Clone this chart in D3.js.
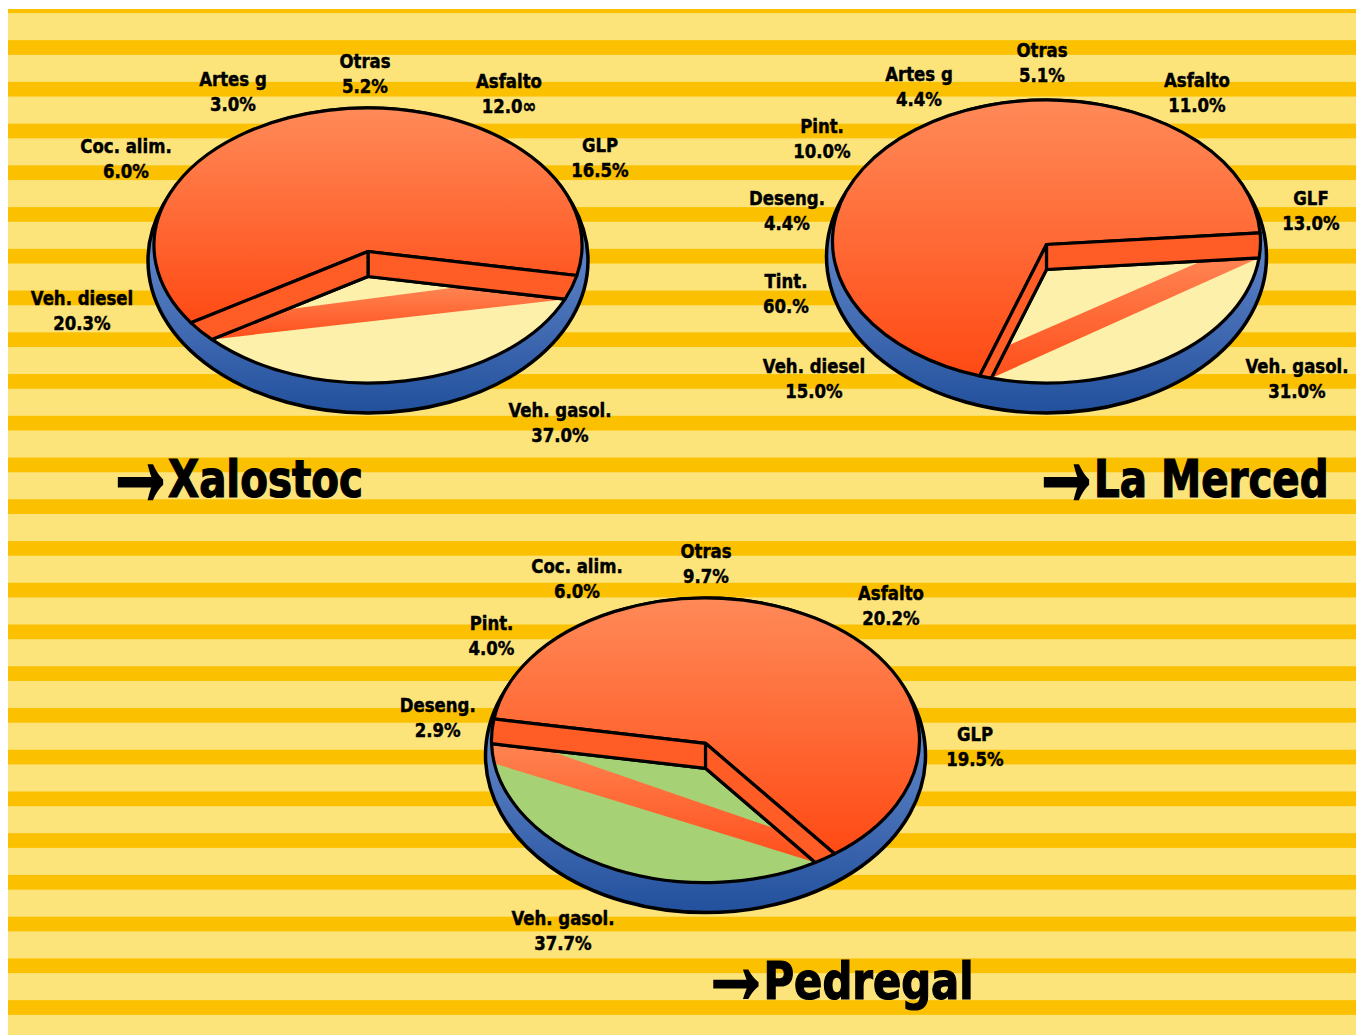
<!DOCTYPE html>
<html>
<head>
<meta charset="utf-8">
<script src="https://cdn.jsdelivr.net/npm/d3@7"></script>
<style>
  html, body { margin: 0; padding: 0; background: #ffffff; }
  svg { display: block; }
  .lbl { font-family: "DejaVu Sans Condensed", "DejaVu Sans", sans-serif; font-stretch: condensed; font-weight: bold; font-size: 20px; fill: #000; stroke: #000; stroke-width: 0.45px; }
  .ttl { font-family: "DejaVu Sans Condensed", "DejaVu Sans", sans-serif; font-stretch: condensed; font-weight: bold; font-size: 51px; fill: #000; stroke: #000; stroke-width: 1.2px; }
  .arw { font-family: "Noto Sans", sans-serif; font-weight: bold; font-size: 52px; fill: #000; stroke: #000; stroke-linejoin: miter; }
</style>
</head>
<body>
<script>
// ---- Data: share of emissions by source, per station (clockwise from 12 o'clock) ----
const xalostocCategories = ["Asfalto", "GLP", "Veh. gasol.", "Veh. diesel", "Coc. alim.", "Artes g", "Otras"];
const xalostocValues     = [12.0, 16.5, 37.0, 20.3, 6.0, 3.0, 5.2];
const xalostocLabels     = ["12.0∞", "16.5%", "37.0%", "20.3%", "6.0%", "3.0%", "5.2%"];

const mercedCategories = ["Asfalto", "GLF", "Veh. gasol.", "Veh. diesel", "Tint.", "Deseng.", "Pint.", "Artes g", "Otras"];
const mercedValues     = [11.0, 13.0, 31.0, 15.0, 6.0, 4.4, 10.0, 4.4, 5.1];
const mercedLabels     = ["11.0%", "13.0%", "31.0%", "15.0%", "60.%", "4.4%", "10.0%", "4.4%", "5.1%"];

const pedregalCategories = ["Asfalto", "GLP", "Veh. gasol.", "Deseng.", "Pint.", "Coc. alim.", "Otras"];
const pedregalValues     = [20.2, 19.5, 37.7, 2.9, 4.0, 6.0, 9.7];
const pedregalLabels     = ["20.2%", "19.5%", "37.7%", "2.9%", "4.0%", "6.0%", "9.7%"];

const stationNames = ["Xalostoc", "La Merced", "Pedregal"];
const cutCategory = "Veh. gasol.";   // the slice that is drawn sunk into the pie

const stations = [
  { name: stationNames[0], categories: xalostocCategories, values: xalostocValues, labels: xalostocLabels },
  { name: stationNames[1], categories: mercedCategories,   values: mercedValues,   labels: mercedLabels },
  { name: stationNames[2], categories: pedregalCategories, values: pedregalValues, labels: pedregalLabels }
];

// ---- Layout (geometry and styling of each pie) ----
const layout = {
  "Xalostoc": {
    cx: 368, cy: 245.5, rx: 214, ry: 137.5, side: 30, depth: 25, apexDy: 6,
    floor: "#fdf0aa", stripe: { f: 0.47, g: 0.54, arc: 0 },
    title: [117, 497], nameScale: 0.88,
    labelOffsets: {
      "Asfalto": [141, -157.5], "GLP": [232, -93.5], "Veh. gasol.": [192, 171.5],
      "Veh. diesel": [-286, 59.5], "Coc. alim.": [-242, -92.5], "Artes g": [-135, -159.5], "Otras": [-3, -177.5]
    }
  },
  "La Merced": {
    cx: 1046.5, cy: 241.5, rx: 214, ry: 141.5, side: 30, depth: 25, apexDy: 3,
    floor: "#fdf0aa", stripe: { f: 0.30, g: 0.27, arc: 0 },
    title: [1043, 497], nameScale: 0.88,
    labelOffsets: {
      "Asfalto": [150.5, -154.5], "GLF": [264.5, -36.5], "Veh. gasol.": [250.5, 131.5],
      "Veh. diesel": [-232.5, 131.5], "Tint.": [-260.5, 46.5], "Deseng.": [-259.5, -36.5],
      "Pint.": [-224.5, -108.5], "Artes g": [-127.5, -160.5], "Otras": [-4.5, -184.5]
    }
  },
  "Pedregal": {
    cx: 705.5, cy: 740.3, rx: 214, ry: 142.3, side: 30, depth: 25, apexDy: 3,
    floor: "#a6d275", stripe: { f: 0.26, g: 0.355, arc: 8 },
    title: [712.5, 999], nameScale: 0.91,
    labelOffsets: {
      "Asfalto": [185.5, -140.3], "GLP": [269.5, 0.4], "Veh. gasol.": [-142.5, 184.7],
      "Deseng.": [-267.8, -28.3], "Pint.": [-214, -110.3], "Coc. alim.": [-128.5, -167.3], "Otras": [0.5, -182.3]
    }
  }
};
const arrowBox = { width: 47, top: -34, bottom: 4, stroke: 2 };   // title arrow ink box, relative to the title baseline

const W = 1356, H = 1035;
const svg = d3.select("body").append("svg").attr("width", W).attr("height", H);
const defs = svg.append("defs");

// gradients
function linGrad(id, stops) {
  const g = defs.append("linearGradient").attr("id", id)
    .attr("x1", 0).attr("y1", 0).attr("x2", 0).attr("y2", 1);
  stops.forEach(([o, c]) => g.append("stop").attr("offset", o).attr("stop-color", c));
}
linGrad("topFace", [[0, "#ff8a58"], [1, "#ff4a14"]]);
linGrad("sideBlue", [[0, "#7b9ad6"], [0.5, "#5a80c4"], [1, "#22509c"]]);
linGrad("stripeFill", [[0, "#ff8452"], [1, "#ff4e1a"]]);

// ---- Background: white frame with horizontal yellow bands ----
svg.append("rect").attr("width", W).attr("height", H).attr("fill", "#ffffff");
const bg = svg.append("g");
const bgTop = 9, bgLeft = 8;
bg.append("rect").attr("x", bgLeft).attr("y", bgTop).attr("width", W - bgLeft).attr("height", H - bgTop).attr("fill", "#fce47b");
const bandPeriod = 41.74, bandH = 14.7, bandStart = -1.6;
d3.range(0, 26).forEach(k => {
  const y0 = bandStart + k * bandPeriod;
  const top = Math.max(y0, bgTop), bot = Math.min(y0 + bandH, H);
  if (bot > top) bg.append("rect").attr("x", bgLeft).attr("y", top).attr("width", W - bgLeft).attr("height", bot - top).attr("fill", "#fbc101");
});

// ink and font-box extent of the arrow glyph, measured once on a canvas with the same font
const arrowInk = (() => {
  const ctx = document.createElement("canvas").getContext("2d");
  ctx.font = "bold 52px 'Noto Sans'";
  const m = ctx.measureText("→");
  const h = arrowBox.stroke / 2;
  return {
    left: -m.actualBoundingBoxLeft - h, right: m.actualBoundingBoxRight + h,
    top: -m.actualBoundingBoxAscent - h, bottom: m.actualBoundingBoxDescent + h,
    boxDescent: m.fontBoundingBoxDescent || 52 * 0.3
  };
})();

// ---- Pies ----
const pie = d3.pie().sort(null).value(d => d.value).startAngle(0).endAngle(2 * Math.PI);

stations.forEach((st, si) => {
  const L = layout[st.name];
  const { cx, cy, rx, ry } = L;
  const rows = st.categories.map((c, i) => ({ category: c, value: st.values[i], label: st.labels[i] }));
  const arcs = pie(rows);
  const cut = arcs.find(a => a.data.category === cutCategory);

  const ell = a => [cx + rx * Math.sin(a), cy - ry * Math.cos(a)];
  const angOf = p => Math.atan2((p[0] - cx) / rx, -(p[1] - cy) / ry);
  const A = [cx, cy + L.apexDy];                 // apex on the top face
  const B = [cx, cy + L.apexDy + L.depth];       // apex on the sunk floor
  const E1 = ell(cut.startAngle), E2 = ell(cut.endAngle);

  // where the floor edge (wall bottom, parallel to the top edge) meets the rim
  function rimHit(E) {
    const du = (E[0] - A[0]) / rx, dv = (E[1] - A[1]) / ry;
    const u0 = (B[0] - cx) / rx, v0 = (B[1] - cy) / ry;
    const a = du * du + dv * dv, b = 2 * (u0 * du + v0 * dv), c = u0 * u0 + v0 * v0 - 1;
    const s = (-b + Math.sqrt(b * b - 4 * a * c)) / (2 * a);
    return [B[0] + s * (E[0] - A[0]), B[1] + s * (E[1] - A[1])];
  }
  const R = rimHit(E1), Lc = rimHit(E2);
  const norm = d => { while (d < 0) d += 2 * Math.PI; while (d >= 2 * Math.PI) d -= 2 * Math.PI; return d; };
  const P = p => p[0].toFixed(2) + "," + p[1].toFixed(2);

  const g = svg.append("g");

  // blue side (base)
  g.append("ellipse")
    .attr("cx", cx).attr("cy", cy + L.side / 2)
    .attr("rx", rx + 6).attr("ry", ry + L.side / 2)
    .attr("fill", "url(#sideBlue)").attr("stroke", "#000").attr("stroke-width", 3.5);

  // top face with the slice removed
  const span = cut.endAngle - cut.startAngle;
  const topPath = `M${P(A)}L${P(E1)}A${rx},${ry} 0 ${span < Math.PI ? 1 : 0} 0 ${P(E2)}Z`;
  g.append("path").attr("d", topPath).attr("fill", "url(#topFace)")
    .attr("stroke", "#000").attr("stroke-width", 3.2).attr("stroke-linejoin", "round");

  // sunk floor
  const dFloor = norm(angOf(Lc) - angOf(R));
  const floorPath = `M${P(B)}L${P(R)}A${rx},${ry} 0 ${dFloor > Math.PI ? 1 : 0} 1 ${P(Lc)}Z`;
  const clipId = "floorClip" + si;
  defs.append("clipPath").attr("id", clipId).append("path").attr("d", floorPath);
  g.append("path").attr("d", floorPath).attr("fill", L.floor);

  // highlight band across the floor
  const lerp = (p, q, t) => [p[0] + (q[0] - p[0]) * t, p[1] + (q[1] - p[1]) * t];
  const sp = lerp(Lc, B, L.stripe.f), sq = lerp(R, B, L.stripe.g);
  const lb = ell(angOf(Lc) - L.stripe.arc * Math.PI / 180);
  g.append("path")
    .attr("d", `M${P(Lc)}L${P(sp)}L${P(sq)}L${P(R)}L${P(lb)}Z`)
    .attr("clip-path", `url(#${clipId})`)
    .attr("fill", "url(#stripeFill)");

  g.append("path").attr("d", floorPath).attr("fill", "none")
    .attr("stroke", "#000").attr("stroke-width", 3.2).attr("stroke-linejoin", "round");

  // cut walls on both sides of the slice
  const dR = norm(angOf(R) - cut.startAngle);
  const wall1 = `M${P(A)}L${P(E1)}A${rx},${ry} 0 ${dR > Math.PI ? 1 : 0} 1 ${P(R)}L${P(B)}Z`;
  const dL = norm(cut.endAngle - angOf(Lc));
  const wall2 = `M${P(A)}L${P(E2)}A${rx},${ry} 0 ${dL > Math.PI ? 1 : 0} 0 ${P(Lc)}L${P(B)}Z`;
  [wall1, wall2].forEach(d => g.append("path").attr("d", d)
    .attr("fill", "#ff5c26").attr("stroke", "#000").attr("stroke-width", 3.2).attr("stroke-linejoin", "round"));

  // labels
  rows.forEach(r => {
    const off = L.labelOffsets[r.category];
    const t = g.append("g").attr("transform", `translate(${cx + off[0]},${cy + off[1]}) scale(0.92,1)`);
    t.append("text").attr("class", "lbl").attr("text-anchor", "middle").text(r.category);
    t.append("text").attr("class", "lbl").attr("text-anchor", "middle").attr("y", 25).text(r.label);
  });

  // station title: arrow glyph fitted to its ink box, followed by the name
  const tg = g.append("g").attr("transform", `translate(${L.title[0]},${L.title[1]})`);
  const inkMid = (arrowBox.top + arrowBox.bottom) / 2;
  const sx = arrowBox.width / (arrowInk.right - arrowInk.left);
  // keep the glyph's font box inside the page
  const syMax = (H - 2 - L.title[1] - inkMid) / (arrowInk.boxDescent - (arrowInk.top + arrowInk.bottom) / 2);
  const sy = Math.min((arrowBox.bottom - arrowBox.top) / (arrowInk.bottom - arrowInk.top), syMax);
  const ty = inkMid - (arrowInk.top + arrowInk.bottom) / 2 * sy;
  tg.append("g")
    .attr("transform", `translate(${-arrowInk.left * sx},${ty}) scale(${sx},${sy})`)
    .append("text").attr("class", "arw").attr("stroke-width", arrowBox.stroke).text("→");
  tg.append("g").attr("transform", `translate(51,0) scale(${L.nameScale},1)`)
    .append("text").attr("class", "ttl").text(st.name);
});
</script>
</body>
</html>
